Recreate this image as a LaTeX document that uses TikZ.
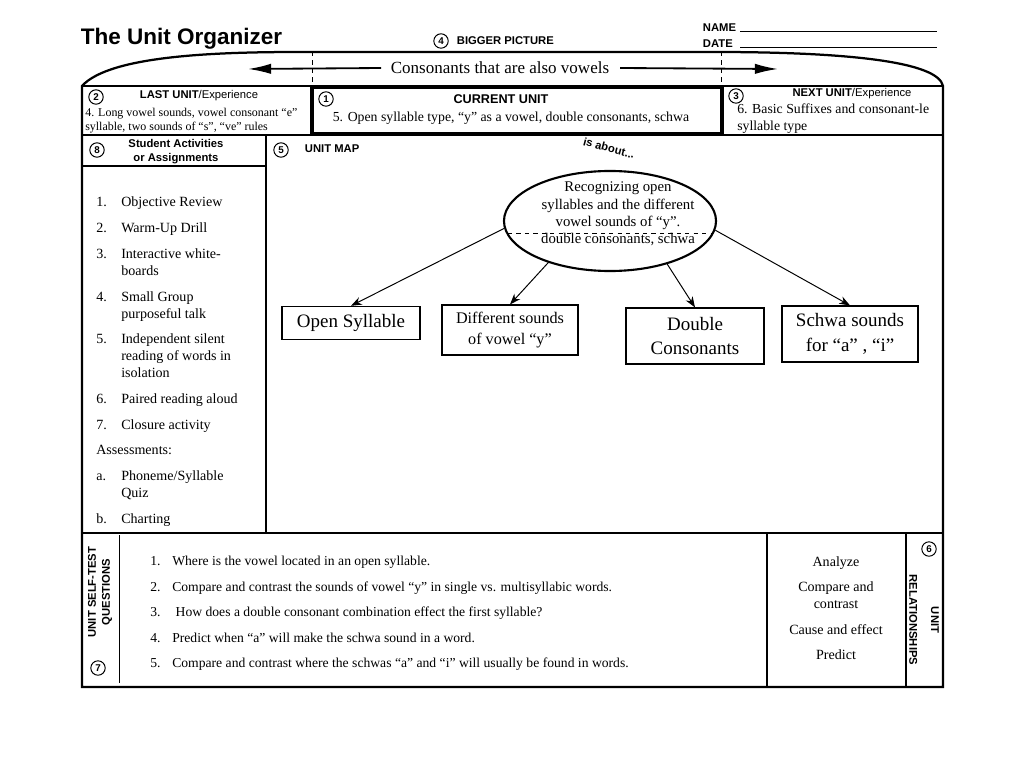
\documentclass[tikz,border=0pt]{standalone}
\usepackage{fontspec}
\setmainfont{Liberation Serif}
\setsansfont{Liberation Sans}
\usetikzlibrary{shapes.geometric,arrows.meta}

\begin{document}
\begin{tikzpicture}[x=0.025cm, y=-0.025cm,
        frame/.style={line width=1.6pt},
        rule/.style={line width=1.1pt},
        numc/.style={circle, draw, line width=0.7pt, inner sep=0pt, minimum size=0.36cm, font=\sffamily\bfseries\fontsize{7}{7}\selectfont},
        head/.style={font=\sffamily\bfseries\fontsize{8}{10}\selectfont, align=center},
        smalltxt/.style={font=\fontsize{8.5}{10}\selectfont, align=left, inner sep=0pt},
        listtxt/.style={font=\fontsize{10}{12.1}\selectfont, align=left, inner sep=0pt},
        box/.style={rectangle, draw, line width=0.8pt, align=center, inner sep=0pt},
        bigarrow/.style={line width=1.3pt, -{Latex[length=0.58cm, width=0.26cm]}},
        arrow/.style={-{Stealth[length=0.27cm, width=0.2cm]}, line width=0.7pt}]

        \useasboundingbox (0,0) rectangle (1024,768);

        % heading
        \node[font=\sffamily\bfseries\fontsize{16}{18}\selectfont, anchor=west] (title) at (76,39) {The Unit Organizer};
        \node[numc] (n4) at (441,41) {4};
        \node[head, anchor=west] (bigpic) at (452,41) {BIGGER PICTURE};
        \node[head, anchor=west] (name) at (698,28) {NAME};
        \node[head, anchor=west] (date) at (698,44) {DATE};
        \draw[line width=0.6pt] (740,31) -- (937,31);
        \draw[line width=0.6pt] (740,47) -- (937,47);

        % frame
        \draw[frame] (82,687) -- (82,86) .. controls (110,55) and (220,52) .. (300,52) -- (715,52)
            .. controls (850,52) and (938,62) .. (943,86) -- (943,687) -- cycle;
        \draw[rule] (82,86) -- (943,86);
        \draw[rule] (82,135) -- (943,135);
        \draw[dashed, line width=0.6pt] (312,52) -- (312,86);
        \draw[dashed, line width=0.6pt] (721,52) -- (721,86);

        % bigger picture
        \node[font=\fontsize{12.1}{14}\selectfont] (bigtxt) at (500,68) {Consonants that are also vowels};
        \coordinate (lefttip) at (248,69);
        \coordinate (righttip) at (778,69);
        \draw[bigarrow] ([xshift=-0.12cm]bigtxt.west) -- (lefttip);
        \draw[bigarrow] ([xshift=0.15cm]bigtxt.east) -- (righttip);

        % last, current, next unit
        \node[numc] (n2) at (96,97) {2};
        \node[head] (lasthd) at (199,96) {LAST UNIT\textmd{/Experience}};
        \node[smalltxt, anchor=north west] (lasttxt) at (85,107.5) {4. Long vowel sounds, vowel consonant “e”\\syllable, two sounds of “s”, “ve” rules};

        \draw[line width=3pt] (312,87) rectangle (722,134);
        \node[numc] (n1) at (326,99) {1};
        \node[head, font=\sffamily\bfseries\fontsize{9}{10}\selectfont] (curhd) at (501,99) {CURRENT UNIT};
        \node[font=\fontsize{9.8}{12}\selectfont, anchor=base] (curtxt) at (511,121.5) {5. Open syllable type, “y” as a vowel, double consonants, schwa};

        \node[numc] (n3) at (736,96) {3};
        \node[head] (nexthd) at (852,94) {NEXT UNIT\textmd{/Experience}};
        \node[font=\fontsize{9.8}{12.1}\selectfont, align=left, inner sep=0pt, anchor=north west] (nexttxt) at (737,104) {6. Basic Suffixes and consonant-le\\syllable type};

        % student activities
        \draw[rule] (266,135) -- (266,533);
        \draw[rule] (82,166) -- (266,166);
        \node[numc] (n8) at (97,150) {8};
        \node[head] (acthd) at (176,152) {Student Activities\\or Assignments};
        \foreach \y/\n/\t in {201/1./Objective Review, 227/2./Warm-Up Drill,
                253/3./{Interactive white-\\boards}, 296/4./{Small Group\\purposeful talk},
                338/5./{Independent silent\\reading of words in\\isolation}, 398/6./Paired reading aloud,
                424/7./Closure activity, 475/a./{Phoneme/Syllable\\Quiz}, 518/b./Charting} {
            \node[listtxt, anchor=north west] at (96,\y-6.8) {\strut\n};
            \node[listtxt, anchor=north west] at (121,\y-6.8) {\strut\t};
        }
        \node[listtxt, anchor=north west] (assess) at (96,442.2) {\strut Assessments:};

        % unit map
        \node[numc] (n5) at (281,150) {5};
        \node[head, anchor=west] (maphd) at (300,149) {UNIT MAP};
        \node[font=\sffamily\bfseries\fontsize{8}{10}\selectfont, rotate=-15] (about) at (609,148) {is about...};

        \node[ellipse, draw, line width=1.5pt, minimum width=5.3cm, minimum height=2.5cm] (core) at (610,221) {};
        \node[font=\fontsize{10.5}{12.3}\selectfont, align=center] (coretxt) at (618,214) {Recognizing open\\syllables and the different\\vowel sounds of “y”.\\double consonants, schwa};
        \draw[dashed, line width=0.6pt] (508,233) -- (713,233);

        \node[box, minimum width=3.45cm, minimum height=0.83cm, font=\fontsize{13.5}{16}\selectfont] (open) at (351,323) {Open Syllable};
        \node[box, minimum width=3.4cm, minimum height=1.25cm, font=\fontsize{11.5}{14.5}\selectfont] (diff) at (510,330) {Different sounds\\of vowel “y”};
        \node[box, minimum width=3.45cm, minimum height=1.4cm, font=\fontsize{13.5}{17.5}\selectfont] (dbl) at (695,336) {Double\\Consonants};
        \node[box, minimum width=3.4cm, minimum height=1.4cm, font=\fontsize{13.5}{17.5}\selectfont] (schwa) at (850,334) {Schwa sounds\\for “a” , “i”};

        \draw[arrow] (core.184) -- (open.north);
        \draw[arrow] (core.214) -- (diff.north);
        \draw[arrow] (core.323) -- (dbl.north);
        \draw[arrow] (core.355) -- (schwa.north);

        % self-test questions
        \draw[rule] (82,533) -- (943,533);
        \draw[line width=0.7pt] (119,535) -- (119,683);
        \draw[line width=1.6pt] (767,533) -- (767,687);
        \draw[rule] (906,533) -- (906,687);
        \node[head, rotate=90] (testhd) at (100,592) {UNIT SELF-TEST\\QUESTIONS};
        \node[numc] (n7) at (98,668) {7};
        \foreach \y/\n/\t in {560/1./Where is the vowel located in an open syllable.,
                586/2./Compare and contrast the sounds of vowel “y” in single vs. multisyllabic words.,
                611/3./{\ How does a double consonant combination effect the first syllable?},
                637/4./Predict when “a” will make the schwa sound in a word.,
                662/5./Compare and contrast where the schwas “a” and “i” will usually be found in words.} {
            \node[listtxt, font=\fontsize{9.7}{12}\selectfont, anchor=base west] at (150,\y+5.5) {\n};
            \node[listtxt, font=\fontsize{9.7}{12}\selectfont, anchor=base west] at (172,\y+5.5) {\t};
        }

        % unit relationships
        \node[listtxt, anchor=base] (analyze) at (836,566.5) {Analyze};
        \node[listtxt, align=center, anchor=north] (compare) at (836,581.5) {Compare and\\contrast};
        \node[listtxt, anchor=base] (cause) at (836,634.5) {Cause and effect};
        \node[listtxt, anchor=base] (predict) at (836,659.5) {Predict};
        \node[head, font=\sffamily\bfseries\fontsize{8}{15.5}\selectfont, rotate=-90] (relhd) at (924,620) {UNIT\\RELATIONSHIPS};
        \node[numc] (n6) at (929,549) {6};
    \end{tikzpicture}
\end{document}
